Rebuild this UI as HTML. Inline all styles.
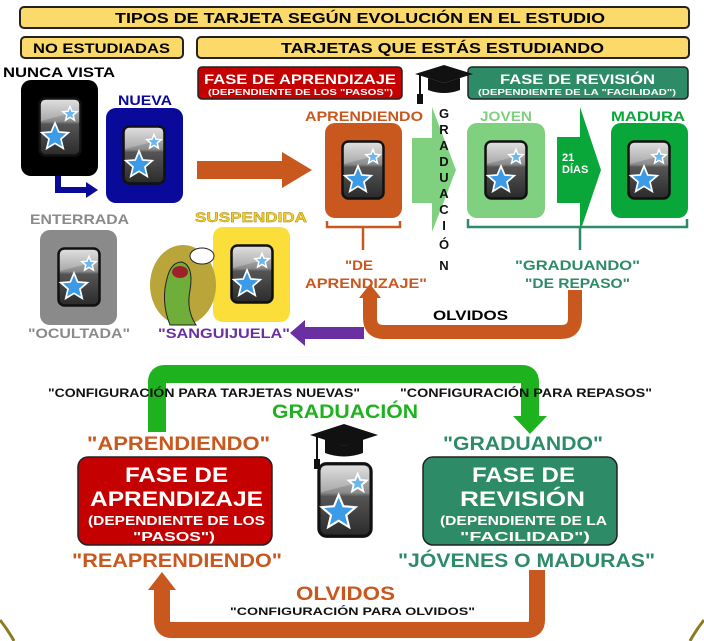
<!DOCTYPE html>
<html><head><meta charset="utf-8"><style>
html,body{margin:0;padding:0;background:#fff;}
svg{display:block;font-family:"Liberation Sans",sans-serif;font-weight:bold;}
</style></head><body>
<svg width="704" height="641" viewBox="0 0 704 641" xmlns="http://www.w3.org/2000/svg">
<defs>
<linearGradient id="cg" x1="0" y1="0" x2="0" y2="1">
<stop offset="0" stop-color="#d8d8d8"/><stop offset="0.4" stop-color="#8a8a8a"/><stop offset="0.45" stop-color="#555"/><stop offset="1" stop-color="#2a2a2a"/></linearGradient>
<path id="st" d="M0,-1 L.265,-.364 .951,-.309 .428,.139 .588,.809 0,.45 -.588,.809 -.428,.139 -.951,-.309 -.265,-.364Z"/>
<symbol id="card" viewBox="0 0 44 60">
<rect x="1.5" y="1.5" width="41" height="57" rx="6" fill="url(#cg)" stroke="#111" stroke-width="2.5"/>
<path d="M3,24 L41,14 L41,5 Q41,3 38,3 L6,3 Q3,3 3,6Z" fill="#fff" opacity="0.25"/>
<use href="#st" transform="translate(17,40) scale(14)" fill="#3c9be6" stroke="#fff" stroke-width="0.12"/>
<use href="#st" transform="translate(32,17) scale(7.5)" fill="#6ab8ee" stroke="#fff" stroke-width="0.2"/>
</symbol>
</defs>

<rect x="20" y="7" width="669" height="21" rx="4" fill="#fcd96b" stroke="#222" stroke-width="2"/>
<text x="115" y="23" font-size="15" textLength="490" lengthAdjust="spacingAndGlyphs">TIPOS DE TARJETA SEGÚN EVOLUCIÓN EN EL ESTUDIO</text>
<rect x="21" y="37" width="162" height="21" rx="4" fill="#fcd96b" stroke="#222" stroke-width="2"/>
<text x="33" y="53" font-size="14" textLength="137" lengthAdjust="spacingAndGlyphs">NO ESTUDIADAS</text>
<rect x="197" y="37" width="492" height="21" rx="4" fill="#fcd96b" stroke="#222" stroke-width="2"/>
<text x="281" y="53" font-size="15" textLength="323" lengthAdjust="spacingAndGlyphs">TARJETAS QUE ESTÁS ESTUDIANDO</text>

<rect x="198" y="67" width="204" height="32" rx="4" fill="#c40000" stroke="#222" stroke-width="1.5"/>
<text x="204" y="84" font-size="14" fill="#fff" textLength="192" lengthAdjust="spacingAndGlyphs">FASE DE APRENDIZAJE</text>
<text x="208" y="95" font-size="8" fill="#fff" textLength="185" lengthAdjust="spacingAndGlyphs">(DEPENDIENTE DE LOS "PASOS")</text>
<rect x="468" y="67" width="220" height="32" rx="4" fill="#2e8b68" stroke="#222" stroke-width="1.5"/>
<text x="500" y="84" font-size="14" fill="#fff" textLength="155" lengthAdjust="spacingAndGlyphs">FASE DE REVISIÓN</text>
<text x="478" y="95" font-size="8" fill="#fff" textLength="198" lengthAdjust="spacingAndGlyphs">(DEPENDIENTE DE LA "FACILIDAD")</text>
<g transform="translate(444,80)">
<polygon points="-29,-6 0,-15 29,-6 0,3" fill="#111"/>
<path d="M-16,-2 L-16,10 Q0,16 16,10 L16,-2 L0,3Z" fill="#111"/>
<line x1="-24" y1="-5" x2="-24" y2="16" stroke="#111" stroke-width="2"/>
<rect x="-27" y="14" width="6" height="10" fill="#111"/>
</g>

<text x="3" y="77" font-size="14" textLength="112" lengthAdjust="spacingAndGlyphs">NUNCA VISTA</text>
<rect x="21" y="80" width="77" height="96" rx="10" fill="#000"/>
<use href="#card" x="38" y="97" width="44" height="60"/>
<path d="M58,176 L58,190 L88,190" fill="none" stroke="#0a0a9a" stroke-width="6"/>
<polygon points="86,182 98,190 86,198" fill="#0a0a9a"/>
<text x="118" y="105" font-size="14" fill="#0a0a9a" textLength="54" lengthAdjust="spacingAndGlyphs">NUEVA</text>
<rect x="106" y="108" width="77" height="95" rx="10" fill="#0a0a9a"/>
<use href="#card" x="122" y="125" width="44" height="60"/>

<polygon points="197,161 282,161 282,152 312,170 282,188 282,179 197,179" fill="#c8581e"/>

<text x="305" y="121" font-size="14" fill="#c8581e" textLength="118" lengthAdjust="spacingAndGlyphs">APRENDIENDO</text>
<rect x="325" y="123" width="77" height="95" rx="10" fill="#c8581e"/>
<use href="#card" x="341" y="140" width="44" height="60"/>
<path d="M327,221 L327,227 L400,227 L400,221 M363,227 L363,250" fill="none" stroke="#c8581e" stroke-width="2.5"/>
<text x="345" y="270" font-size="14" fill="#c8581e" textLength="28" lengthAdjust="spacingAndGlyphs">"DE</text>
<text x="305" y="288" font-size="14" fill="#c8581e" textLength="122" lengthAdjust="spacingAndGlyphs">APRENDIZAJE"</text>

<polygon points="412,138 432,138 432,107 456,170 432,232 432,203 412,203" fill="#7fd07f"/>
<g font-size="13" text-anchor="middle" fill="#111">
<text x="444" y="118">G</text><text x="444" y="134">R</text><text x="444" y="150">A</text><text x="444" y="166">D</text><text x="444" y="182">U</text><text x="444" y="198">A</text><text x="444" y="214">C</text><text x="444" y="230">I</text><text x="444" y="249">Ó</text><text x="444" y="270">N</text>
</g>

<text x="480" y="121" font-size="14" fill="#7fd07f" textLength="52" lengthAdjust="spacingAndGlyphs">JOVEN</text>
<rect x="467" y="123" width="78" height="95" rx="10" fill="#7fd07f"/>
<use href="#card" x="484" y="140" width="44" height="60"/>
<polygon points="557,137 580,137 580,107 601,170 580,232 580,203 557,203" fill="#09a63a"/>
<text x="562" y="161" font-size="11" fill="#fff">21</text>
<text x="562" y="173" font-size="11" fill="#fff">DÍAS</text>
<text x="611" y="121" font-size="14" fill="#09a63a" textLength="74" lengthAdjust="spacingAndGlyphs">MADURA</text>
<rect x="611" y="123" width="77" height="95" rx="10" fill="#09a63a"/>
<use href="#card" x="627" y="140" width="44" height="60"/>
<path d="M468,219 L468,227 L687,227 L687,219 M580,227 L580,250" fill="none" stroke="#2e8b68" stroke-width="2.5"/>
<text x="515" y="270" font-size="14" fill="#2e8b68" textLength="125" lengthAdjust="spacingAndGlyphs">"GRADUANDO"</text>
<text x="525" y="288" font-size="14" fill="#2e8b68" textLength="105" lengthAdjust="spacingAndGlyphs">"DE REPASO"</text>

<path d="M575,290 L575,318 Q575,332 561,332 L384,332 Q370,332 370,318 L370,296" fill="none" stroke="#c8581e" stroke-width="14"/>
<polygon points="359,298 370,284 381,298" fill="#c8581e"/>
<text x="433" y="320" font-size="14" textLength="75" lengthAdjust="spacingAndGlyphs">OLVIDOS</text>
<polygon points="364,327 305,327 305,320 290,333 305,346 305,339 364,339" fill="#6a2fa0"/>

<text x="30" y="224" font-size="14" fill="#8a8a8a" textLength="99" lengthAdjust="spacingAndGlyphs">ENTERRADA</text>
<rect x="40" y="230" width="77" height="95" rx="10" fill="#8a8a8a"/>
<use href="#card" x="57" y="247" width="44" height="60"/>
<text x="28" y="338" font-size="14" fill="#8a8a8a" textLength="102" lengthAdjust="spacingAndGlyphs">"OCULTADA"</text>

<text x="195" y="222" font-size="14" fill="#f4cf2a" stroke="#a08000" stroke-width="0.4" textLength="112" lengthAdjust="spacingAndGlyphs">SUSPENDIDA</text>
<rect x="213" y="227" width="77" height="95" rx="10" fill="#fbde3a"/>
<use href="#card" x="230" y="244" width="44" height="60"/>
<ellipse cx="183" cy="285" rx="33" ry="40" fill="#b9a53a"/>
<path d="M170,325 Q160,300 168,275 Q172,262 182,262 Q194,266 190,290 Q186,310 196,325Z" fill="#6fae3a" stroke="#222" stroke-width="1"/>
<ellipse cx="180" cy="272" rx="8" ry="6" fill="#a0202a"/>
<ellipse cx="202" cy="256" rx="12" ry="8" fill="#fff" stroke="#222"/>
<text x="158" y="338" font-size="14" fill="#6a2fa0" textLength="132" lengthAdjust="spacingAndGlyphs">"SANGUIJUELA"</text>

<path d="M157,432 L157,382 Q157,374 165,374 L522,374 Q530,374 530,382 L530,418" fill="none" stroke="#1fb21f" stroke-width="18"/>
<polygon points="513,416 547,416 530,434" fill="#1fb21f"/>
<text x="48" y="397" font-size="12" fill="#111" textLength="312" lengthAdjust="spacingAndGlyphs">"CONFIGURACIÓN PARA TARJETAS NUEVAS"</text>
<text x="400" y="397" font-size="12" fill="#111" textLength="252" lengthAdjust="spacingAndGlyphs">"CONFIGURACIÓN PARA REPASOS"</text>
<text x="272" y="418" font-size="19" fill="#1fb21f" textLength="146" lengthAdjust="spacingAndGlyphs">GRADUACIÓN</text>

<text x="87" y="450" font-size="19" fill="#c8581e" textLength="183" lengthAdjust="spacingAndGlyphs">"APRENDIENDO"</text>
<rect x="78" y="457" width="194" height="88" rx="10" fill="#c40000" stroke="#222" stroke-width="1.5"/>
<text x="125" y="482" font-size="21" fill="#fff" textLength="103" lengthAdjust="spacingAndGlyphs">FASE DE</text>
<text x="90" y="506" font-size="21" fill="#fff" textLength="173" lengthAdjust="spacingAndGlyphs">APRENDIZAJE</text>
<text x="88" y="525" font-size="13" fill="#fff" textLength="177" lengthAdjust="spacingAndGlyphs">(DEPENDIENTE DE LOS</text>
<text x="133" y="541" font-size="13" fill="#fff" textLength="82" lengthAdjust="spacingAndGlyphs">"PASOS")</text>
<text x="72" y="567" font-size="19" fill="#c8581e" textLength="210" lengthAdjust="spacingAndGlyphs">"REAPRENDIENDO"</text>

<g transform="translate(344,441)">
<polygon points="-34,-6 0,-17 34,-6 0,5" fill="#111"/>
<path d="M-19,-2 L-19,12 Q0,19 19,12 L19,-2 L0,5Z" fill="#111"/>
<line x1="-27" y1="-5" x2="-27" y2="20" stroke="#111" stroke-width="2"/>
<rect x="-30" y="18" width="6" height="10" fill="#111"/>
</g>
<use href="#card" x="317" y="460" width="56" height="80" preserveAspectRatio="none"/>

<text x="443" y="450" font-size="19" fill="#2e8b68" textLength="160" lengthAdjust="spacingAndGlyphs">"GRADUANDO"</text>
<rect x="423" y="457" width="194" height="88" rx="10" fill="#2e8b68" stroke="#222" stroke-width="1.5"/>
<text x="472" y="482" font-size="21" fill="#fff" textLength="103" lengthAdjust="spacingAndGlyphs">FASE DE</text>
<text x="460" y="506" font-size="21" fill="#fff" textLength="125" lengthAdjust="spacingAndGlyphs">REVISIÓN</text>
<text x="440" y="525" font-size="13" fill="#fff" textLength="167" lengthAdjust="spacingAndGlyphs">(DEPENDIENTE DE LA</text>
<text x="460" y="541" font-size="13" fill="#fff" textLength="130" lengthAdjust="spacingAndGlyphs">"FACILIDAD")</text>
<text x="398" y="567" font-size="19" fill="#2e8b68" textLength="257" lengthAdjust="spacingAndGlyphs">"JÓVENES O MADURAS"</text>

<path d="M537,570 L537,620 Q537,630 527,630 L172,630 Q162,630 162,620 L162,588" fill="none" stroke="#c8581e" stroke-width="16"/>
<polygon points="148,590 162,572 176,590" fill="#c8581e"/>
<text x="296" y="600" font-size="19" fill="#c8581e" textLength="99" lengthAdjust="spacingAndGlyphs">OLVIDOS</text>
<text x="230" y="615" font-size="11" fill="#111" textLength="245" lengthAdjust="spacingAndGlyphs">"CONFIGURACIÓN PARA OLVIDOS"</text>

<path d="M0,620 Q8,630 14,641" fill="none" stroke="#8a7a20" stroke-width="3"/>
<path d="M704,620 Q696,630 690,641" fill="none" stroke="#8a7a20" stroke-width="3"/>
</svg>
</body></html>
